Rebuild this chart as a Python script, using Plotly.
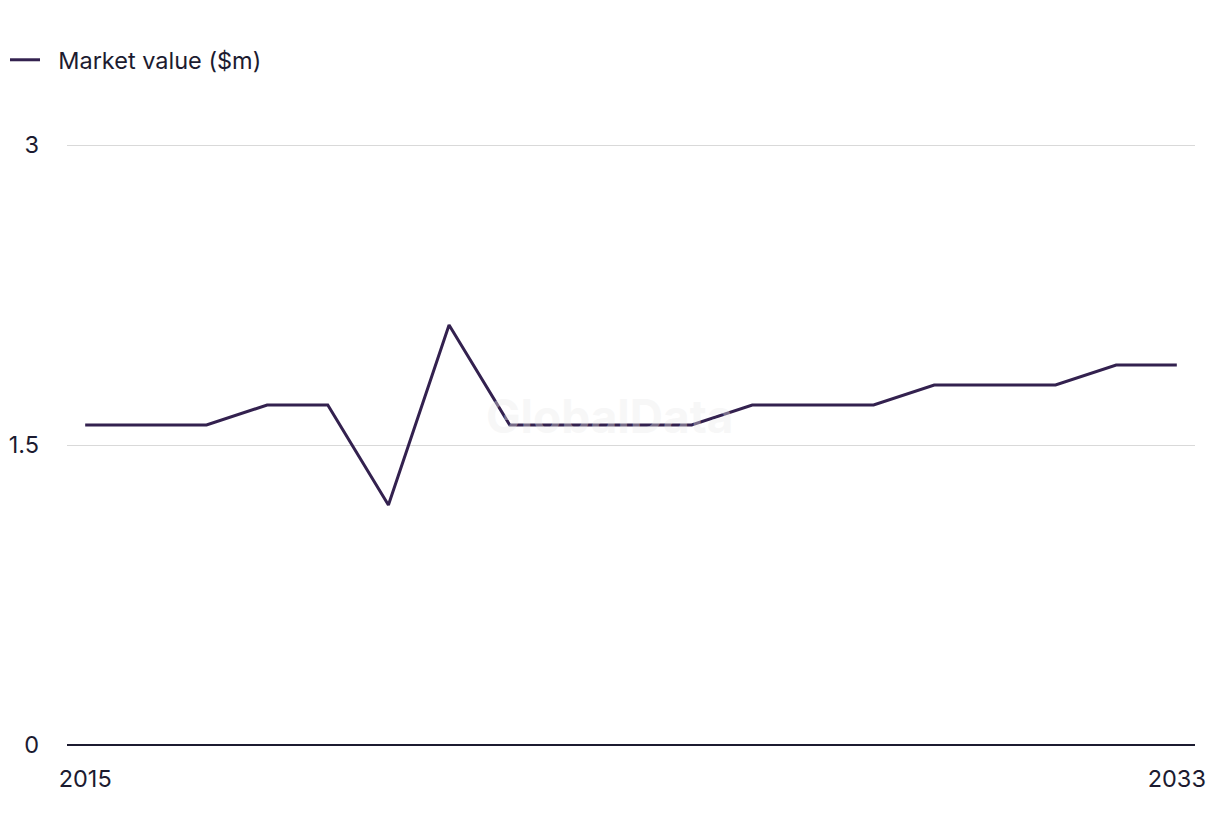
import plotly.graph_objects as go

years = list(range(2015, 2034))
market_value = [1.6, 1.6, 1.6, 1.7, 1.7, 1.2, 2.1, 1.6, 1.6, 1.6, 1.6, 1.7, 1.7, 1.7, 1.8, 1.8, 1.8, 1.9, 1.9]
series_name = "Market value ($m)"
x_ticks = [2015, 2033]
y_ticks = [0, 1.5, 3]
y_tick_labels = ["0", "1.5", "3"]

FONT = "Inter"
TEXT = "#1c1b30"
FS = 23.5

fig = go.Figure()
fig.add_trace(go.Scatter(
    x=years, y=market_value, mode="lines", name="\u00a0\u00a0" + series_name,
    line=dict(color="#33214f", width=3),
))

fig.update_layout(
    width=1220, height=836,
    margin=dict(l=67, r=25, t=141, b=91, autoexpand=False),
    paper_bgcolor="white", plot_bgcolor="white",
    font=dict(family=FONT, size=FS, color=TEXT),
    showlegend=True,
    legend=dict(
        orientation="h", xref="container", yref="container",
        x=5 / 1220, y=1 - 38 / 836, xanchor="left", yanchor="top",
        font=dict(size=FS, color=TEXT), itemwidth=30,
    ),
    xaxis=dict(
        range=[2014.7, 2033.3], tickvals=x_ticks, ticktext=[str(t) for t in x_ticks],
        showgrid=False, zeroline=False, showline=False, automargin=False,
        ticks="", ticklabelstandoff=17,
    ),
    yaxis=dict(
        range=[0, 3.02], tickvals=y_ticks, ticktext=y_tick_labels,
        showgrid=True, gridcolor="#d9d9d9", gridwidth=1,
        zeroline=True, zerolinecolor="#1c1b30", zerolinewidth=2,
        showline=False, ticks="", ticklabelstandoff=27, automargin=False,
    ),
    annotations=[dict(
        text="<b>GlobalData</b>", x=0.481, y=0.545, xref="paper", yref="paper",
        showarrow=False, font=dict(size=46, family="Inter", color="rgba(235,235,235,0.4)"),
    )],
)

fig.write_html("out.html")
